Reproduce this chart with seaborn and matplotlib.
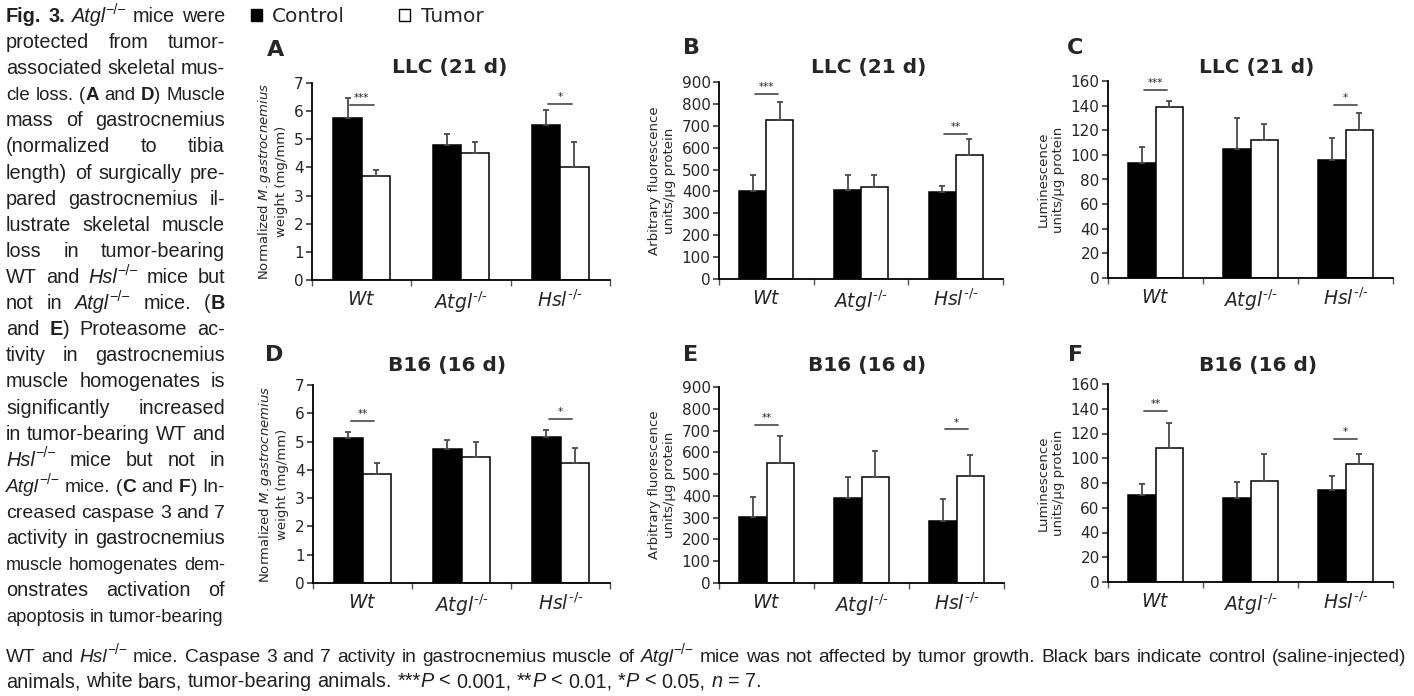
import matplotlib
matplotlib.use('Agg')
import matplotlib.pyplot as plt
import seaborn as sns
import pandas as pd
import numpy as np
from matplotlib import font_manager
from matplotlib.patches import Patch
from matplotlib.transforms import IdentityTransform

W, H = 1414, 696

genotypes = ['Wt', 'Atgl', 'Hsl']
tick_labels = [r'$\mathit{Wt}$', r'$\mathit{Atgl}^{\text{-/-}}$', r'$\mathit{Hsl}^{\text{-/-}}$']
conditions = ['Control', 'Tumor']

# means and upper error per panel, order Wt, Atgl, Hsl
a_ctrl = [5.77, 4.79, 5.50]
a_ctrl_err = [0.70, 0.39, 0.55]
a_tum = [3.69, 4.52, 4.00]
a_tum_err = [0.21, 0.39, 0.91]

b_ctrl = [403, 407, 398]
b_ctrl_err = [71, 70, 29]
b_tum = [725, 422, 567]
b_tum_err = [83, 55, 71]

c_ctrl = [93.5, 104.6, 96.0]
c_ctrl_err = [13.3, 25.4, 17.8]
c_tum = [138.6, 112.2, 120.5]
c_tum_err = [5.2, 13.2, 13.3]

d_ctrl = [5.12, 4.73, 5.16]
d_ctrl_err = [0.23, 0.33, 0.26]
d_tum = [3.86, 4.45, 4.26]
d_tum_err = [0.40, 0.54, 0.53]

e_ctrl = [305, 389, 285]
e_ctrl_err = [90, 96, 101]
e_tum = [549, 487, 493]
e_tum_err = [125, 117, 94]

f_ctrl = [70.6, 67.6, 74.6]
f_ctrl_err = [8.9, 12.9, 10.8]
f_tum = [108.0, 81.3, 95.4]
f_tum_err = [20.2, 22.1, 8.3]

# significance: (group index, bar height, stars)
a_sig = [(0, 6.23, '***'), (2, 6.25, '*')]
b_sig = [(0, 846, '***'), (2, 664, '**')]
c_sig = [(0, 152.7, '***'), (2, 140.3, '*')]
d_sig = [(0, 5.74, '**'), (2, 5.81, '*')]
e_sig = [(0, 724, '**'), (2, 705, '*')]
f_sig = [(0, 138.2, '**'), (2, 115.8, '*')]

lab_mass = 'Normalized $\\mathit{M.gastrocnemius}$\nweight (mg/mm)'
lab_fluo = 'Arbitrary fluorescence\nunits/\u00b5g protein'
lab_lum = 'Luminescence\nunits/\u00b5g protein'

# letter, title, ylabel, ymax, step, data, sig, axes box in px (left, top, right, bottom), letter pos, title pos
panels = [
    ('A', 'LLC (21 d)', lab_mass, 7, 1, (a_ctrl, a_ctrl_err, a_tum, a_tum_err), a_sig,
     (312, 83, 610, 280), (267, 50), (450, 68)),
    ('B', 'LLC (21 d)', lab_fluo, 900, 100, (b_ctrl, b_ctrl_err, b_tum, b_tum_err), b_sig,
     (719, 82, 1003, 279), (683, 48), (869, 68)),
    ('C', 'LLC (21 d)', lab_lum, 160, 20, (c_ctrl, c_ctrl_err, c_tum, c_tum_err), c_sig,
     (1108, 81, 1393, 278), (1067, 48), (1257, 68)),
    ('D', 'B16 (16 d)', lab_mass, 7, 1, (d_ctrl, d_ctrl_err, d_tum, d_tum_err), d_sig,
     (313, 385, 610, 583), (265, 355), (447, 365)),
    ('E', 'B16 (16 d)', lab_fluo, 900, 100, (e_ctrl, e_ctrl_err, e_tum, e_tum_err), e_sig,
     (719, 387, 1004, 583), (683, 355), (867, 365)),
    ('F', 'B16 (16 d)', lab_lum, 160, 20, (f_ctrl, f_ctrl_err, f_tum, f_tum_err), f_sig,
     (1108, 384, 1393, 582), (1068, 355), (1258, 365)),
]

sns.set_style('ticks')
plt.rcParams['font.family'] = ['DejaVu Sans']
plt.rcParams['mathtext.fontset'] = 'dejavusans'

fig = plt.figure(figsize=(W / 100, H / 100), dpi=100)


def px(x, y):
    return x / W, 1 - y / H


for letter, title, ylabel, ymax, step, vals, sig, box, lpos, tpos in panels:
    ctrl, ctrl_err, tum, tum_err = vals
    l, t, r, b = box
    ax = fig.add_axes([l / W, 1 - b / H, (r - l) / W, (b - t) / H])
    df = pd.DataFrame({
        'genotype': genotypes * 2,
        'condition': ['Control'] * 3 + ['Tumor'] * 3,
        'value': ctrl + tum,
    })
    sns.barplot(data=df, x='genotype', y='value', hue='condition', order=genotypes,
                hue_order=conditions, palette={'Control': 'black', 'Tumor': 'white'},
                edgecolor='black', linewidth=1.1, width=0.57, errorbar=None,
                legend=False, ax=ax)
    for cont, err in zip(ax.containers, [ctrl_err, tum_err]):
        xs = [p.get_x() + p.get_width() / 2 for p in cont]
        hs = [p.get_height() for p in cont]
        ax.errorbar(xs, hs, yerr=[np.zeros(len(err)), err], fmt='none', ecolor='#4a4a4a',
                    elinewidth=1.3, capsize=2.5, capthick=1.3, zorder=3)
    for g, y, stars in sig:
        ax.plot([g - 0.12, g + 0.12], [y, y], color='#555555', lw=1.3)
        ax.text(g, y + ymax * 0.01, stars, ha='center', va='bottom', fontsize=7.5)

    ax.set_xlim(-0.5, 2.5)
    ax.set_ylim(0, ymax)
    ax.set_yticks(np.arange(0, ymax + step, step))
    ax.set_xticks([0, 1, 2])
    ax.set_xticklabels(tick_labels, fontsize=13.5)
    ax.set_xticks([-0.5, 0.5, 1.5, 2.5], minor=True)
    ax.tick_params(axis='x', which='major', length=0, pad=7)
    ax.tick_params(axis='x', which='minor', length=4, width=1, color='#555555')
    ax.tick_params(axis='y', length=4, width=1.1, labelsize=11, pad=2)
    ax.set_xlabel('')
    ax.set_ylabel(ylabel, fontsize=9.5, labelpad=4)
    sns.despine(ax=ax)
    for s in ['left', 'bottom']:
        ax.spines[s].set_linewidth(1.3)
        ax.spines[s].set_color('black')

    fig.text(*px(*lpos), letter, fontsize=16, fontweight='bold', ha='left', va='center')
    fig.text(*px(*tpos), title, fontsize=14.5, fontweight='bold', ha='center', va='center')

handles = [Patch(facecolor='black', edgecolor='black'),
           Patch(facecolor='white', edgecolor='black')]
fig.legend(handles, conditions, loc='center left', bbox_to_anchor=px(251, 17), ncol=2,
           frameon=False, fontsize=14.5, handlelength=0.55, handleheight=0.55,
           handletextpad=0.5, columnspacing=2.7, borderpad=0, borderaxespad=0)

# caption text, drawn word by word so that lines can be justified
SUP = '\u2212/\u2212'
caption_col = [
    [('Fig. 3.', 'b'), (' ', 'n'), ('Atgl', 'i'), (SUP, 's'), (' mice were', 'n')],
    [('protected from tumor-', 'n')],
    [('associated skeletal mus-', 'n')],
    [('cle loss. (', 'n'), ('A', 'b'), (' and ', 'n'), ('D', 'b'), (') Muscle', 'n')],
    [('mass of gastrocnemius', 'n')],
    [('(normalized to tibia', 'n')],
    [('length) of surgically pre-', 'n')],
    [('pared gastrocnemius il-', 'n')],
    [('lustrate skeletal muscle', 'n')],
    [('loss in tumor-bearing', 'n')],
    [('WT and ', 'n'), ('Hsl', 'i'), (SUP, 's'), (' mice but', 'n')],
    [('not in ', 'n'), ('Atgl', 'i'), (SUP, 's'), (' mice. (', 'n'), ('B', 'b')],
    [('and ', 'n'), ('E', 'b'), (') Proteasome ac-', 'n')],
    [('tivity in gastrocnemius', 'n')],
    [('muscle homogenates is', 'n')],
    [('significantly increased', 'n')],
    [('in tumor-bearing WT and', 'n')],
    [('Hsl', 'i'), (SUP, 's'), (' mice but not in', 'n')],
    [('Atgl', 'i'), (SUP, 's'), (' mice. (', 'n'), ('C', 'b'), (' and ', 'n'), ('F', 'b'), (') In-', 'n')],
    [('creased caspase 3 and 7', 'n')],
    [('activity in gastrocnemius', 'n')],
    [('muscle homogenates dem-', 'n')],
    [('onstrates activation of', 'n')],
    [('apoptosis in tumor-bearing', 'n')],
]
caption_bottom = [
    [('WT and ', 'n'), ('Hsl', 'i'), (SUP, 's'),
     (' mice. Caspase 3 and 7 activity in gastrocnemius muscle of ', 'n'), ('Atgl', 'i'), (SUP, 's'),
     (' mice was not affected by tumor growth. Black bars indicate control (saline-injected)', 'n')],
    [('animals, white bars, tumor-bearing animals. ***', 'n'), ('P', 'i'), (' < 0.001, **', 'n'),
     ('P', 'i'), (' < 0.01, *', 'n'), ('P', 'i'), (' < 0.05, ', 'n'), ('n', 'i'), (' = 7.', 'n')],
]

installed = {f.name for f in font_manager.fontManager.ttflist}
CAP_FONT = [f for f in ['Liberation Sans Narrow', 'Liberation Sans', 'DejaVu Sans'] if f in installed]
CAP_COLOR = '#231f20'
renderer = fig.canvas.get_renderer()


def piece_kw(st, size):
    kw = dict(family=CAP_FONT, fontsize=size, color=CAP_COLOR)
    if st == 'b':
        kw['fontweight'] = 'bold'
    elif st == 'i':
        kw['style'] = 'italic'
    elif st == 's':
        kw['fontsize'] = size * 0.72
    return kw


def measure(s, kw):
    t = fig.text(0, 0, s, transform=IdentityTransform(), **kw)
    w = t.get_window_extent(renderer).width
    t.remove()
    return w


def split_words(pieces):
    words = [[]]
    for text, st in pieces:
        for k, part in enumerate(text.split(' ')):
            if k > 0:
                words.append([])
            if part:
                words[-1].append((part, st))
    return [w for w in words if w]


def layout(words, size):
    widths = [[measure(s, piece_kw(st, size)) for s, st in w] for w in words]
    space = measure('a a', piece_kw('n', size)) - measure('aa', piece_kw('n', size))
    total = sum(sum(w) for w in widths)
    return widths, space, total, total + space * (len(words) - 1)


def draw_line(pieces, x0, y_base, width, justify, size):
    words = split_words(pieces)
    widths, space, total, natural = layout(words, size)
    if natural > width:
        size *= width / natural * 0.995
        widths, space, total, natural = layout(words, size)
    if justify and len(words) > 1:
        gap = (width - total) / (len(words) - 1)
    else:
        gap = space
    y = H - y_base
    x = x0
    for w, ws in zip(words, widths):
        for (s, st), pw in zip(w, ws):
            dy = size * 0.42 * 100 / 72 if st == 's' else 0
            fig.text(x, y + dy, s, transform=IdentityTransform(), ha='left', va='baseline',
                     **piece_kw(st, size))
            x += pw
        x += gap


COL_W = 219
# pick a font size that fills most of the column lines naturally
fill = [COL_W / layout(split_words(line), 10)[3] * 10 for line in caption_col[:-1]]
cap_size = min(float(np.percentile(fill, 22)), 14.5)

for i, line in enumerate(caption_col):
    draw_line(line, 6, 22 + i * 26.1, COL_W, justify=(i < len(caption_col) - 1), size=cap_size)

draw_line(caption_bottom[0], 6, 662, 1400, justify=True, size=cap_size)
draw_line(caption_bottom[1], 6, 687, 1400, justify=False, size=cap_size)

fig.savefig('out.png', dpi=100)
